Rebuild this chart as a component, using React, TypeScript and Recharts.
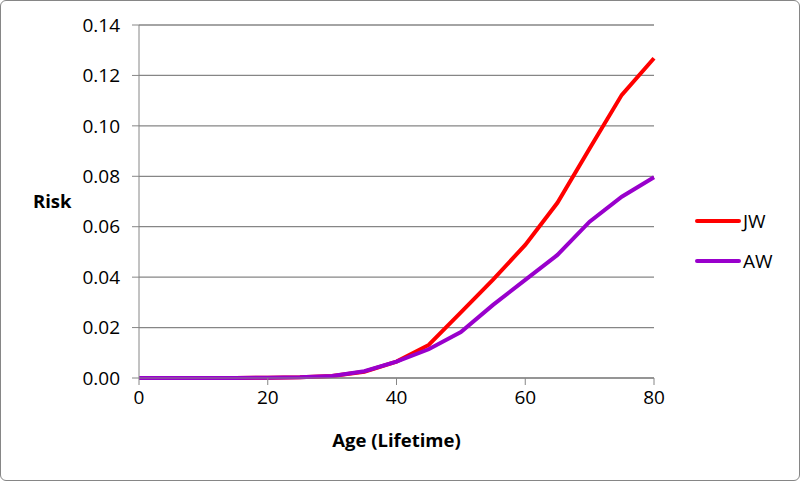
import React from "react";
import { LineChart, Line, XAxis, YAxis, CartesianGrid } from "recharts";

const ages = [0, 5, 10, 15, 20, 25, 30, 35, 40, 45, 50, 55, 60, 65, 70, 75, 80];
const jwRisk = [0, 0, 0, 0, 0.0001, 0.0003, 0.0008, 0.0025, 0.0065, 0.0131, 0.026, 0.039, 0.0528, 0.0695, 0.091, 0.1123, 0.1268];
const awRisk = [0, 0, 0, 0, 0.0001, 0.0003, 0.0008, 0.0027, 0.0065, 0.0114, 0.0182, 0.029, 0.0389, 0.0488, 0.062, 0.0719, 0.0796];
const xTicks = [0, 20, 40, 60, 80];
const yTicks = [0, 0.02, 0.04, 0.06, 0.08, 0.1, 0.12, 0.14];

const series = [
  { key: "JW", color: "#ff0000" },
  { key: "AW", color: "#9900cc" },
];

const data = ages.map((age, i) => ({ age, JW: jwRisk[i], AW: awRisk[i] }));

const FONT = "'Open Sans', sans-serif";
const AXIS = "#868686";

// legend drawn beside the chart, like the spreadsheet one
const LegendBox = () => (
  <div
    style={{
      position: "absolute",
      left: 694,
      top: 209,
      display: "flex",
      flexDirection: "column",
      gap: 18,
      fontFamily: FONT,
    }}
  >
    {series.map((s) => (
      <div key={s.key} style={{ display: "flex", alignItems: "center", height: 22 }}>
        <span
          style={{
            width: 46,
            height: 4,
            borderRadius: 2,
            background: s.color,
            display: "inline-block",
            marginRight: 2,
          }}
        />
        <span style={{ fontSize: 19, color: "#000" }}>{s.key}</span>
      </div>
    ))}
  </div>
);

export default function App() {
  return (
    <div
      style={{
        position: "absolute",
        left: 0,
        top: 0,
        width: 800,
        height: 481,
        boxSizing: "border-box",
        border: `1px solid ${AXIS}`,
        borderRadius: 6,
        background: "#fff",
        overflow: "hidden",
      }}
    >
      <div style={{ position: "absolute", left: -1, top: -1 }}>
        <LineChart
          width={800}
          height={481}
          data={data}
          margin={{ top: 25, right: 146, left: 0, bottom: 0 }}
        >
          <CartesianGrid vertical={false} stroke={AXIS} strokeWidth={1.3} />
          <XAxis
            dataKey="age"
            type="number"
            domain={[0, 80]}
            ticks={xTicks}
            height={103}
            stroke={AXIS}
            tickSize={7}
            tickMargin={6}
            tick={{ fill: "#000", fontSize: 19, fontFamily: FONT }}
            label={{
              value: "Age (Lifetime)",
              position: "insideBottom",
              offset: 34,
              style: { fill: "#000", fontSize: 18.5, fontWeight: 700, fontFamily: FONT },
            }}
          />
          <YAxis
            type="number"
            domain={[0, 0.14]}
            ticks={yTicks}
            width={139}
            stroke={AXIS}
            tickSize={7}
            tickMargin={12}
            tickFormatter={(v: number) => v.toFixed(2)}
            tick={{ fill: "#000", fontSize: 19, fontFamily: FONT }}
            label={{
              value: "Risk",
              position: "insideLeft",
              offset: 33,
              style: { fill: "#000", fontSize: 18.5, fontWeight: 700, fontFamily: FONT, textAnchor: "start" },
            }}
          />
          {series.map((s) => (
            <Line
              key={s.key}
              dataKey={s.key}
              stroke={s.color}
              strokeWidth={4}
              dot={false}
              activeDot={false}
              isAnimationActive={false}
            />
          ))}
        </LineChart>
      </div>
      <LegendBox />
    </div>
  );
}
